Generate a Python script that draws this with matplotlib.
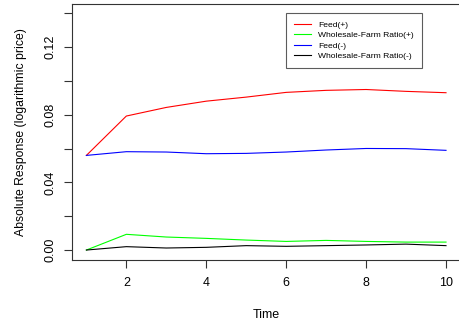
import matplotlib
matplotlib.use("Agg")
import matplotlib.pyplot as plt

plt.rcParams['font.family'] = ['Liberation Sans', 'DejaVu Sans']

# Impulse responses over ten periods
time = [1, 2, 3, 4, 5, 6, 7, 8, 9, 10]
feed_pos = [0.056, 0.0793, 0.0844, 0.0881, 0.0905, 0.0933, 0.0945, 0.0950, 0.0939, 0.0931]
ratio_pos = [0.0, 0.0093, 0.0077, 0.0069, 0.0059, 0.0051, 0.0057, 0.0051, 0.0047, 0.0047]
feed_neg = [0.056, 0.0582, 0.0580, 0.0570, 0.0572, 0.0580, 0.0592, 0.0601, 0.0600, 0.0590]
ratio_neg = [0.0, 0.0020, 0.0012, 0.0016, 0.0026, 0.0022, 0.0026, 0.0030, 0.0035, 0.0026]

labels = ["Feed(+)", "Wholesale-Farm Ratio(+)", "Feed(-)", "Wholesale-Farm Ratio(-)"]
colors = ["#ff0000", "#00ff00", "#0000ff", "#000000"]

fig = plt.figure(figsize=(4.59, 3.26), dpi=100)
ax = fig.add_axes([72 / 459, 66.5 / 326, 388.4 / 459, 255.5 / 326])

for ys, lab, c in zip([feed_pos, ratio_pos, feed_neg, ratio_neg], labels, colors):
    ax.plot(time, ys, color=c, lw=0.8, label=lab)

ax.set_xlim(0.64, 10.36)
ax.set_ylim(-0.0056, 0.1456)
ax.set_xticks([2, 4, 6, 8, 10])
ax.set_yticks([0, 0.02, 0.04, 0.06, 0.08, 0.10, 0.12, 0.14])
ax.set_yticklabels(["0.00", "", "0.04", "", "0.08", "", "0.12", ""],
                   rotation=90, va="center")
ax.tick_params(direction="out", length=6, width=0.8, labelsize=9, color="#333333")
ax.tick_params(axis="x", pad=6.5)
ax.tick_params(axis="y", pad=5)
for s in ax.spines.values():
    s.set_linewidth(0.8)
    s.set_color("#333333")

ax.set_xlabel("Time", fontsize=9, labelpad=14.5)
ax.set_ylabel("Absolute Response (logarithmic price)", fontsize=8.8, labelpad=13)

leg = ax.legend(loc="upper left", bbox_to_anchor=(214.3 / 388.4, 1 - 9.3 / 255.5),
                fontsize=6.1, frameon=True, fancybox=False, handlelength=2.0,
                handletextpad=0.9, labelspacing=0.3, borderpad=0.9, borderaxespad=0)
leg.get_frame().set_edgecolor("#333333")
leg.get_frame().set_linewidth(0.8)

fig.savefig("out.png", dpi=100)
